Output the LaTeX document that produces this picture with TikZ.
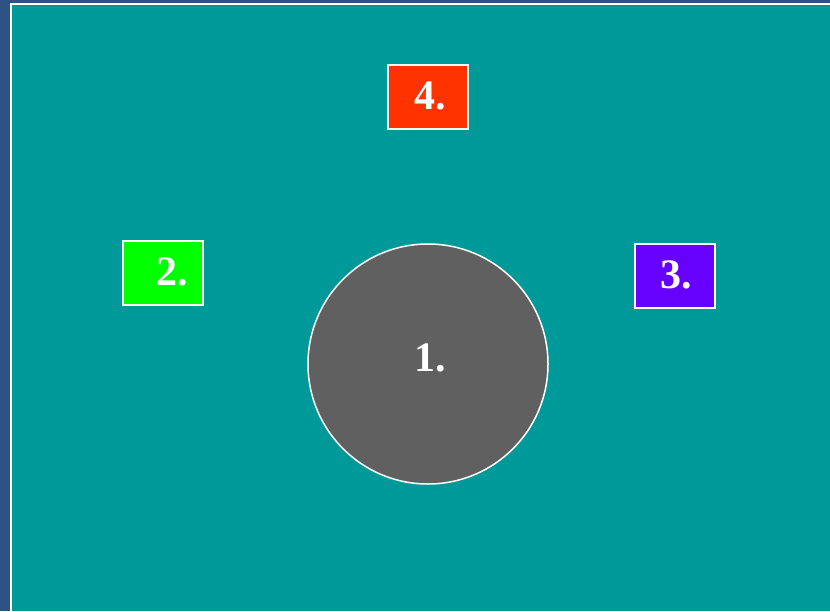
\documentclass[tikz,border=0pt]{standalone}
\usepackage{fontspec}
\setmainfont{Liberation Serif}
\definecolor{navy}{HTML}{2D5286}
\definecolor{teal0}{HTML}{009999}
\definecolor{redb}{HTML}{FF3300}
\definecolor{greenb}{HTML}{00FF00}
\definecolor{purpb}{HTML}{6600FF}
\definecolor{grayc}{HTML}{606060}
\begin{document}
\begin{tikzpicture}[x=1pt,y=-1pt,
  lbl/.style={text=white,font=\fontsize{42}{46}\selectfont\bfseries,inner sep=0pt},
  boxs/.style={draw=white,line width=1.5pt}]
\useasboundingbox (0,0) rectangle (830,611);
\fill[navy] (0,0) rectangle (830,611);
\fill[white] (10,3) rectangle (830,611);
\fill[teal0] (12,5) rectangle (830,611);
\filldraw[boxs,fill=redb] (388,65) rectangle (468,129);
\filldraw[boxs,fill=greenb] (123,241) rectangle (203,305);
\filldraw[boxs,fill=purpb] (635,244) rectangle (715,308);
\filldraw[boxs,fill=grayc] (428,364) circle (120);
\node[lbl] (n4) at (430,96) {4.};
\node[lbl] (n2) at (172,272) {2.};
\node[lbl] (n3) at (676,275) {3.};
\node[lbl] (n1) at (430,358) {1.};
\end{tikzpicture}
\end{document}
